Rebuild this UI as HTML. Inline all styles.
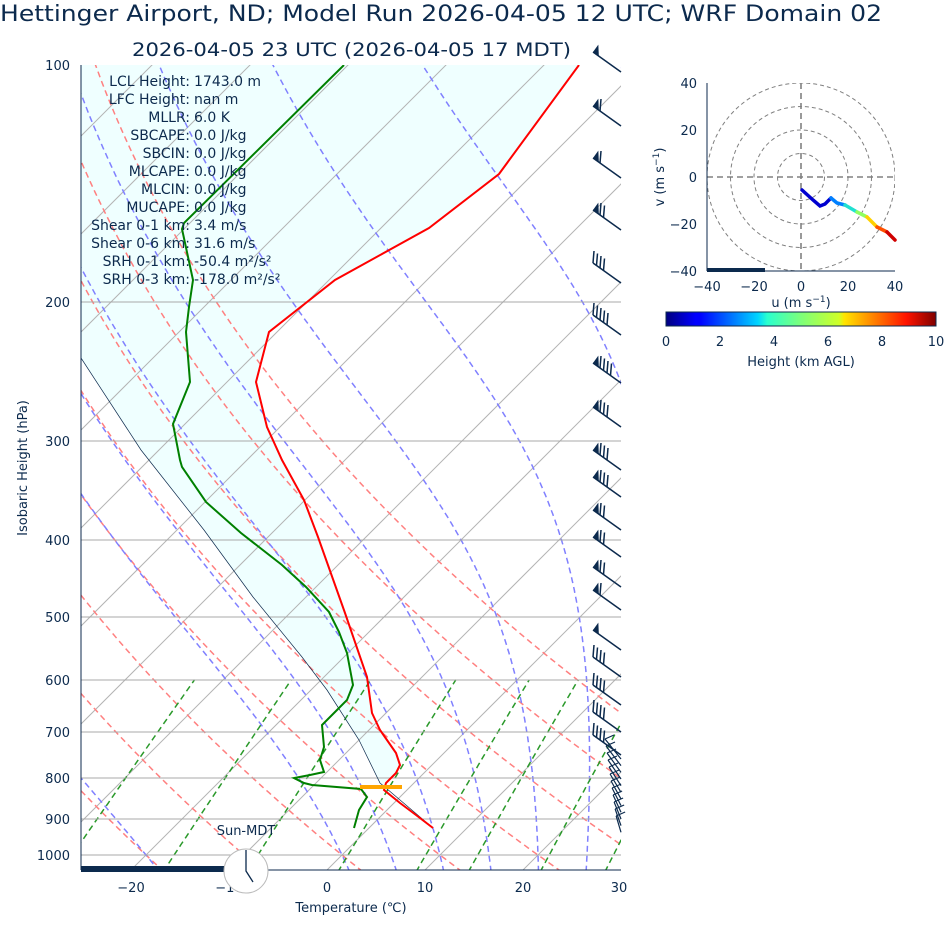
<!DOCTYPE html>
<html><head><meta charset="utf-8"><style>
body{margin:0;background:#fff;}
svg{display:block;font-family:"DejaVu Sans","Liberation Sans",sans-serif;}
text{fill:#0c2a4d;}
</style></head><body>
<svg id="s" width="945" height="936" viewBox="0 0 945 936" xmlns="http://www.w3.org/2000/svg">
<defs>
<clipPath id="cp"><rect x="81" y="65" width="540" height="805"/></clipPath>
<clipPath id="hc"><rect x="707" y="83" width="188" height="188"/></clipPath>
<linearGradient id="jet" x1="0" x2="1" y1="0" y2="0">
<stop offset="0" stop-color="#00007f"/><stop offset="0.11" stop-color="#0000ff"/><stop offset="0.125" stop-color="#0000ff"/>
<stop offset="0.34" stop-color="#00d4ff"/><stop offset="0.375" stop-color="#29ffce"/><stop offset="0.5" stop-color="#7dff7a"/>
<stop offset="0.64" stop-color="#ceff29"/><stop offset="0.66" stop-color="#ffe500"/><stop offset="0.89" stop-color="#ff1300"/><stop offset="1" stop-color="#7f0000"/>
</linearGradient>
</defs>
<text x="0" y="21" font-size="22" textLength="882" lengthAdjust="spacingAndGlyphs">Hettinger Airport, ND; Model Run 2026-04-05 12 UTC; WRF Domain 02</text>
<text x="132" y="56" font-size="19" textLength="439" lengthAdjust="spacingAndGlyphs">2026-04-05 23 UTC  (2026-04-05 17 MDT)</text>
<g clip-path="url(#cp)">
<polygon fill="#efffff" points="81,65 81,358 141,450 204,530 253,597 302,657 327,690 359,740 382,787 386,783 396,773 400,765 396,753 380,730 372,713 367,677 345,613 318,537 304,500 282,460 267,427 256,382 269,332 335,280 429,228 499,174 579,65"/>
<g id="bg"></g>
<g stroke="#a8a8a8" stroke-width="1">
<line x1="81" x2="621" y1="302" y2="302"/><line x1="81" x2="621" y1="441" y2="441"/><line x1="81" x2="621" y1="540" y2="540"/><line x1="81" x2="621" y1="617" y2="617"/><line x1="81" x2="621" y1="680" y2="680"/><line x1="81" x2="621" y1="732" y2="732"/><line x1="81" x2="621" y1="778" y2="778"/><line x1="81" x2="621" y1="819" y2="819"/><line x1="81" x2="621" y1="855" y2="855"/>
</g>
<polyline fill="none" stroke="#0c2a4d" stroke-width="0.7" points="81,358 141,450 204,530 253,597 302,657 327,690 359,740 380,783 433,828"/>
<polyline fill="none" stroke="#ff0000" stroke-width="2" points="579,65 499,174 429,228 335,280 269,332 256,382 267,427 282,460 304,500 318,537 345,613 367,677 372,713 380,730 396,753 400,765 396,773 386,783 384,790 400,803 416,815 433,828"/>
<polyline fill="none" stroke="#008000" stroke-width="2" points="344,65 184,223 182,229 193,280 189,307 186,332 190,382 173,424 180,460 182,467 206,502 241,533 282,565 306,587 329,612 339,632 347,653 353,685 347,700 335,712 322,725 324,747 320,760 324,772 310,775 294,778 304,783 312,785 361,789 367,797 359,810 354,828"/>
<line x1="360" x2="402" y1="787" y2="787" stroke="#ffa500" stroke-width="4"/>
</g>
<g stroke="#0c2a4d" stroke-width="1" fill="none"><line x1="81" y1="65" x2="81" y2="870"/><line x1="81" y1="870" x2="621" y2="870"/></g>
<rect x="81" y="866" width="143" height="6" fill="#0c2a4d"/>
<g font-size="13" text-anchor="end">
<text x="70" y="70">100</text><text x="70" y="307">200</text><text x="70" y="446">300</text><text x="70" y="545">400</text><text x="70" y="622">500</text><text x="70" y="685">600</text><text x="70" y="737">700</text><text x="70" y="783">800</text><text x="70" y="824">900</text><text x="70" y="860">1000</text>
</g>
<text transform="translate(27,468) rotate(-90)" font-size="13" text-anchor="middle">Isobaric Height (hPa)</text>
<g font-size="13" text-anchor="middle">
<text x="131" y="892">−20</text><text x="229" y="892">−10</text><text x="327" y="892">0</text><text x="425" y="892">10</text><text x="523" y="892">20</text><text x="619" y="892">30</text>
<text x="351" y="912">Temperature (℃)</text>
</g>
<circle cx="246" cy="871" r="22" fill="#fff" stroke="#bbb"/>
<polyline points="246,850 246,871 253,882" fill="none" stroke="#0c2a4d" stroke-width="1.3"/>
<text x="246" y="835" font-size="13" text-anchor="middle">Sun-MDT</text>
<g font-size="14">
<g text-anchor="end">
<text x="190" y="86">LCL Height:</text><text x="190" y="104">LFC Height:</text><text x="190" y="122">MLLR:</text><text x="190" y="140">SBCAPE:</text><text x="190" y="158">SBCIN:</text><text x="190" y="176">MLCAPE:</text><text x="190" y="194">MLCIN:</text><text x="190" y="212">MUCAPE:</text><text x="190" y="230">Shear 0-1 km:</text><text x="190" y="248">Shear 0-6 km:</text><text x="190" y="266">SRH 0-1 km:</text><text x="190" y="284">SRH 0-3 km:</text>
</g>
<text x="194" y="86">1743.0 m</text><text x="194" y="104">nan m</text><text x="194" y="122">6.0 K</text><text x="194" y="140">0.0 J/kg</text><text x="194" y="158">0.0 J/kg</text><text x="194" y="176">0.0 J/kg</text><text x="194" y="194">0.0 J/kg</text><text x="194" y="212">0.0 J/kg</text><text x="194" y="230">3.4 m/s</text><text x="194" y="248">31.6 m/s</text><text x="194" y="266">-50.4 m²/s²</text><text x="194" y="284">-178.0 m²/s²</text>
</g>
<g id="barbs" stroke="#0c2a4d" fill="#0c2a4d" stroke-width="1.5"></g>
<g clip-path="url(#hc)" fill="none" stroke="#808080" stroke-dasharray="4,3" stroke-width="1">
<circle cx="801" cy="177" r="23.5"/><circle cx="801" cy="177" r="47"/><circle cx="801" cy="177" r="70.5"/><circle cx="801" cy="177" r="94"/>
<line x1="707" x2="895" y1="177" y2="177" stroke-width="1.6" stroke-dasharray="6,4"/><line x1="801" x2="801" y1="83" y2="271" stroke-width="1.6" stroke-dasharray="6,4"/>
</g>
<g fill="none" stroke-width="3.5" stroke-linecap="round">
<polyline stroke="#0000d0" points="802,190 813,200 820,206 825,204 831,198"/>
<polyline stroke="#0080ff" points="831,198 837,203 845,205"/>
<polyline stroke="#20e0d0" points="845,205 857,212"/>
<polyline stroke="#90ff60" points="857,212 867,217"/>
<polyline stroke="#ffd000" points="867,217 877,227"/>
<polyline stroke="#ff5000" points="877,227 887,232"/>
<polyline stroke="#d00000" points="887,232 895,240"/>
</g>
<g stroke="#0c2a4d" fill="none"><line x1="707" y1="83" x2="707" y2="271"/><line x1="707" y1="271" x2="895" y2="271"/></g>
<rect x="707" y="268" width="58" height="4" fill="#0c2a4d"/>
<g font-size="13" text-anchor="end"><text x="697" y="88">40</text><text x="697" y="135">20</text><text x="697" y="182">0</text><text x="697" y="229">−20</text><text x="697" y="276">−40</text></g>
<g font-size="13" text-anchor="middle"><text x="707" y="291">−40</text><text x="754" y="291">−20</text><text x="801" y="291">0</text><text x="848" y="291">20</text><text x="895" y="291">40</text>
<text x="801" y="307">u (m s<tspan font-size="9" dy="-5">−1</tspan><tspan dy="5">)</tspan></text></g>
<text transform="translate(664,177) rotate(-90)" font-size="13" text-anchor="middle">v (m s<tspan font-size="9" dy="-5">−1</tspan><tspan dy="5">)</tspan></text>
<rect x="666" y="312" width="270" height="14" fill="url(#jet)" stroke="#0c2a4d"/>
<g font-size="13" text-anchor="middle"><text x="666" y="346">0</text><text x="720" y="346">2</text><text x="774" y="346">4</text><text x="828" y="346">6</text><text x="882" y="346">8</text><text x="936" y="346">10</text>
<text x="801" y="366">Height (km AGL)</text></g>
</svg>
<script>
(function(){
var ns="http://www.w3.org/2000/svg";
function Y(p){return 65+790*Math.log10(p/100);}
function X(T,p){return 327+9.8*T+(870-Y(p));}
var bg=document.getElementById('bg');
function path(pts,stroke,dash,w){var d="";pts.forEach(function(q,i){d+=(i?"L":"M")+q[0].toFixed(1)+","+q[1].toFixed(1);});
var e=document.createElementNS(ns,'path');e.setAttribute('d',d);e.setAttribute('fill','none');e.setAttribute('stroke',stroke);e.setAttribute('stroke-width',w||1.5);if(dash)e.setAttribute('stroke-dasharray',dash);bg.appendChild(e);}
for(var T=-140;T<=30;T+=10){path([[X(T,1050),Y(1050)],[X(T,90),Y(90)]],'#b4b4b4',null,1);}
var ps=[];for(var p=1050;p>=90;p-=5)ps.push(p);
for(var t=-30;t<=50;t+=10){var th=t+273.15;path(ps.map(function(p){var T=th*Math.pow(p/1000,0.2857)-273.15;return[X(T,p),Y(p)];}),'#ff8080','6,4',1.5);}
function es(T){return 6.112*Math.exp(17.67*T/(T+243.5));}
function dTdp(p,Tk){var T=Tk-273.15;var rs=0.622*es(T)/(p-es(T));var Rd=287.04,Lv=2.501e6,Cp=1005.7;
return (1/p)*(Rd*Tk+Lv*rs)/(Cp+Lv*Lv*rs*0.622/(Rd*Tk*Tk));}
[-80,-60,-40,-20,0,5,10,15,20,25,30,35].forEach(function(t0){
var Tk=t0+273.15,p;var up=[];
for(p=1000;p>=90;p-=2.5){up.push([X(Tk-273.15,p),Y(p)]);var h=-2.5;var k1=dTdp(p,Tk),k2=dTdp(p+h/2,Tk+h/2*k1);Tk+=h*k2;}
Tk=t0+273.15;var dn=[];for(p=1000;p<=1050;p+=2.5){dn.push([X(Tk-273.15,p),Y(p)]);var h2=2.5;var a=dTdp(p,Tk),b=dTdp(p+h2/2,Tk+h2/2*a);Tk+=h2*b;}
path(dn.reverse().concat(up),'#8080ff','6,4',1.5);});
[0.0004,0.001,0.002,0.004,0.007,0.01,0.016,0.024,0.032].forEach(function(w){var pts=[];for(var p=1050;p>=600;p-=10){var e=p*w/(0.622+w);var l=Math.log(e/6.112);var Td=243.5*l/(17.67-l);pts.push([X(Td,p),Y(p)]);}path(pts,'#2a992a','6,4',1.5);});
var bb=document.getElementById('barbs');
function el(n,a){var e=document.createElementNS(ns,n);for(var k in a)e.setAttribute(k,a[k]);bb.appendChild(e);}
var B=[[52,1,0],[106,1,1],[158,1,1],[210,1,2],[263,0,4],[315,0,5],[363,1,4],[407,1,3],[450,1,3],[477,1,3],[510,1,2],[537,1,2],[567,1,2],[590,1,1],[630,1,0],[657,0,4],[685,0,4],[712,0,4],[735,0,4]];
B.forEach(function(b){var y=b[0];var x0=593,y0=y,x1=621,y1=y+20;el('line',{x1:x0,y1:y0,x2:x1,y2:y1});
var dx=(x1-x0)/24,dy=(y1-y0)/24;
if(b[1]){el('polygon',{points:x0+','+y0+' '+(x0+2*dx+3)+','+(y0+2*dy-9)+' '+(x0+5*dx)+','+(y0+5*dy),stroke:'none'});}
for(var i=0;i<b[2];i++){var s=b[1]?6+i*3:i*3;var bx=x0+s*dx,by=y0+s*dy;el('line',{x1:bx,y1:by,x2:bx+1,y2:by-12});}});
for(var y=745;y<=828;y+=7){var f=(y-745)/83;var x0=605+f*12,x1=621,y1=y+14-f*4;el('line',{x1:x0,y1:y-6,x2:x1,y2:y1,'stroke-width':1.2});el('line',{x1:x0,y1:y-6,x2:x0+9,y2:y-10,'stroke-width':1.2});}
})();
</script>
</body></html>
